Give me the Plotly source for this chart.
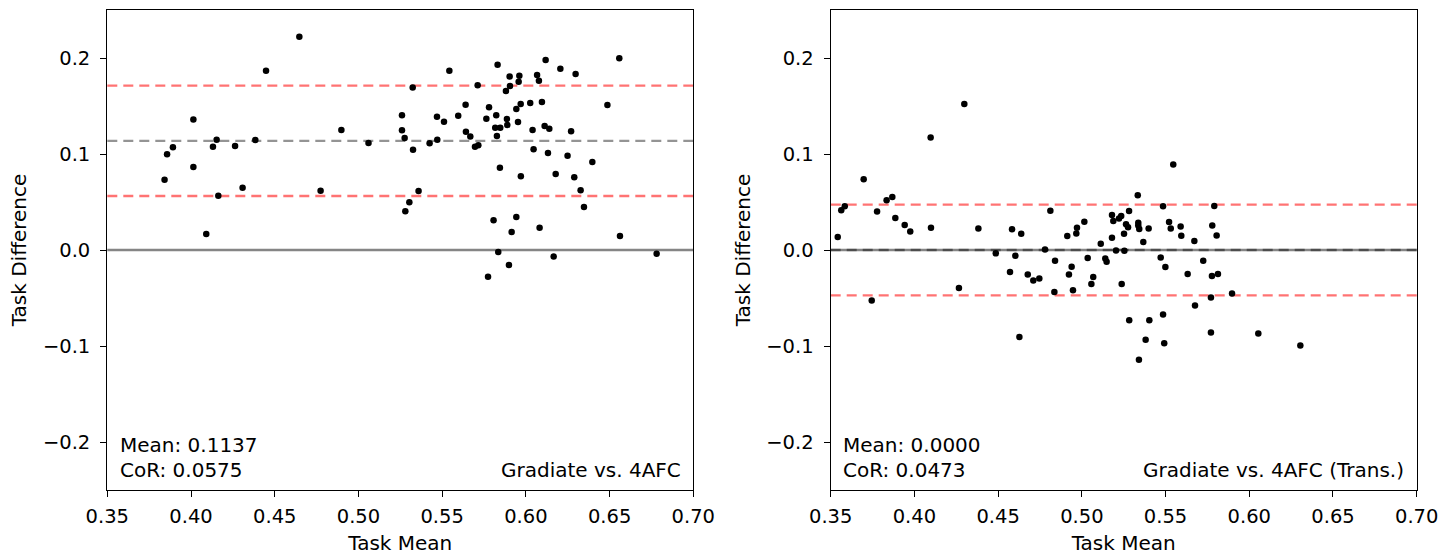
import plotly.graph_objects as go

# ---------------- data ----------------
left_mean_x = [0.3842, 0.3857, 0.3892, 0.4014, 0.4014, 0.4091, 0.4131, 0.4153, 0.4163, 0.4263,
               0.4308, 0.4384, 0.4448, 0.4647, 0.4774, 0.4898, 0.5060,
               0.5260, 0.5260, 0.5276, 0.5324, 0.5326, 0.5280, 0.5304, 0.5359, 0.5425, 0.5471,
               0.5469, 0.5511, 0.5543, 0.5596, 0.5640, 0.5642, 0.5668, 0.5696, 0.5716, 0.5712,
               0.5764, 0.5780, 0.5823, 0.5817, 0.5847, 0.5827, 0.5831, 0.5845, 0.5887, 0.5889,
               0.5881, 0.5905, 0.5903, 0.5957, 0.5961, 0.5943, 0.5969, 0.5953, 0.5970, 0.5807,
               0.5835, 0.5774, 0.5899, 0.5915, 0.5943, 0.6026, 0.6040, 0.6067, 0.6078, 0.6096,
               0.6046, 0.6118, 0.6112, 0.6140, 0.6132, 0.6082, 0.6166, 0.6178, 0.6206, 0.6249,
               0.6270, 0.6297, 0.6289, 0.6327, 0.6347, 0.6397, 0.6487, 0.6558, 0.6562, 0.6781]
left_diff_y = [0.0732, 0.0997, 0.1070, 0.1360, 0.0865, 0.0167, 0.1076, 0.1149, 0.0566, 0.1083,
               0.0649, 0.1146, 0.1868, 0.2222, 0.0618, 0.1250, 0.1115,
               0.1403, 0.1247, 0.1167, 0.1694, 0.1045, 0.0403, 0.0497, 0.0615, 0.1111, 0.1149,
               0.1389, 0.1337, 0.1868, 0.1399, 0.1514, 0.1233, 0.1181, 0.1076, 0.1090, 0.1715,
               0.1368, 0.1486, 0.1403, 0.1274, 0.1274, 0.1188, 0.1930, 0.0857, 0.1365, 0.1302,
               0.1656, 0.1708, 0.1806, 0.1753, 0.1816, 0.1469, 0.1521, 0.1333, 0.0767, 0.0309,
               -0.0021, -0.0278, -0.0156, 0.0188, 0.0344, 0.1531, 0.1250, 0.1823, 0.1764, 0.1542,
               0.1049, 0.1979, 0.1292, 0.1264, 0.1010, 0.0233, -0.0069, 0.0792, 0.1889, 0.0983,
               0.1236, 0.1833, 0.0757, 0.0622, 0.0448, 0.0917, 0.1510, 0.1997, 0.0146, -0.0038]

right_mean_x = [0.3542, 0.3563, 0.3584, 0.3697, 0.3745, 0.3777, 0.3834, 0.3868, 0.3886, 0.3942,
                0.3975, 0.4097, 0.4099, 0.4298, 0.4266, 0.4382, 0.4486, 0.4571, 0.4583, 0.4603,
                0.4627, 0.4638, 0.4677, 0.4710, 0.4746, 0.4780, 0.4812, 0.4836, 0.4840, 0.4913,
                0.4923, 0.4939, 0.4947, 0.4967, 0.4971, 0.5015, 0.5035, 0.5057, 0.5068, 0.5113,
                0.5140, 0.5148, 0.5180, 0.5180, 0.5188, 0.5204,
                0.5222, 0.5235, 0.5282, 0.5238, 0.5252, 0.5254, 0.5264, 0.5276, 0.5283, 0.5334,
                0.5337, 0.5337, 0.5343, 0.5367, 0.5399, 0.5341, 0.5381, 0.5403, 0.5471, 0.5485,
                0.5499, 0.5485, 0.5492, 0.5521, 0.5531, 0.5546, 0.5590, 0.5594, 0.5632, 0.5672,
                0.5676, 0.5725, 0.5771, 0.5771, 0.5777, 0.5791, 0.5779, 0.5805, 0.5813, 0.5897,
                0.6054, 0.6305]
right_diff_y = [0.0136, 0.0413, 0.0455, 0.0737, -0.0526, 0.0400, 0.0518, 0.0553, 0.0334, 0.0261,
                0.0194, 0.1172, 0.0233, 0.1520, -0.0397, 0.0225, -0.0035, -0.0230, 0.0215, -0.0060,
                -0.0905, 0.0170, -0.0255, -0.0317, -0.0296, 0.0006, 0.0410, -0.0438, -0.0112, 0.0146,
                -0.0255, -0.0174, -0.0418, 0.0173, 0.0233, 0.0295, -0.0084, -0.0355, -0.0282, 0.0066,
                -0.0088, -0.0122, 0.0128, 0.0365, 0.0303, -0.0004,
                0.0327, 0.0355, 0.0407, -0.0355, 0.0170, -0.0007, 0.0267, 0.0236, -0.0731, 0.0570,
                0.0285, 0.0254, 0.0219, 0.0084, 0.0225, -0.1142, -0.0936, -0.0731, -0.0077, 0.0455,
                -0.0177, -0.0672, -0.0971, 0.0292, 0.0225, 0.0890, 0.0246, 0.0149, -0.0251, 0.0094,
                -0.0578, -0.0112, -0.0495, -0.0860, -0.0271, 0.0459, 0.0254, 0.0152, -0.0251, -0.0453,
                -0.0871, -0.0996]

panel_stats = [
    {"mean": 0.1137, "cor": 0.0575, "label": "Gradiate vs. 4AFC"},
    {"mean": 0.0000, "cor": 0.0473, "label": "Gradiate vs. 4AFC (Trans.)"},
]
x_ticks = [0.35, 0.40, 0.45, 0.50, 0.55, 0.60, 0.65, 0.70]
y_ticks = [-0.2, -0.1, 0.0, 0.1, 0.2]

# ---------------- figure ----------------
FONT = "DejaVu Sans"
FS = 20
TFS = 19.5
fig = go.Figure()
fig.add_trace(go.Scatter(x=left_mean_x, y=left_diff_y, mode="markers",
                         marker=dict(color="black", size=6.5), xaxis="x", yaxis="y",
                         showlegend=False))
fig.add_trace(go.Scatter(x=right_mean_x, y=right_diff_y, mode="markers",
                         marker=dict(color="black", size=6.5), xaxis="x2", yaxis="y2",
                         showlegend=False))

W, H = 1454, 555
dom_left = [107.3 / W, 693.3 / W]
dom_right = [830.7 / W, 1416.7 / W]
dom_y = [1 - 490 / H, 1 - 10 / H]

ax_common = dict(showgrid=False, zeroline=False, showline=True, linecolor="black",
                 linewidth=1.3, mirror=True, ticks="outside", ticklen=6, tickwidth=1.3,
                 tickcolor="black", tickfont=dict(family=FONT, size=TFS, color="black"),
                 automargin=False)

fig.update_layout(
    width=W, height=H,
    margin=dict(l=0, r=0, t=0, b=0),
    paper_bgcolor="white", plot_bgcolor="white",
    font=dict(family=FONT, size=FS, color="black"),
    xaxis=dict(domain=dom_left, range=[0.35, 0.70], tickvals=x_ticks, tickformat=".2f",
               anchor="y", ticklabelstandoff=2,
               title=dict(text="Task Mean", standoff=10, font=dict(size=FS)), **ax_common),
    yaxis=dict(domain=dom_y, range=[-0.25, 0.25], tickvals=y_ticks, tickformat=".1f",
               anchor="x", ticklabelstandoff=6,
               title=dict(text="Task Difference", standoff=10, font=dict(size=FS)), **ax_common),
    xaxis2=dict(domain=dom_right, range=[0.35, 0.70], tickvals=x_ticks, tickformat=".2f",
                anchor="y2", ticklabelstandoff=2,
                title=dict(text="Task Mean", standoff=10, font=dict(size=FS)), **ax_common),
    yaxis2=dict(domain=dom_y, range=[-0.25, 0.25], tickvals=y_ticks, tickformat=".1f",
                anchor="x2", ticklabelstandoff=6,
                title=dict(text="Task Difference", standoff=10, font=dict(size=FS)), **ax_common),
)

for i, st in enumerate(panel_stats):
    xr = "x" if i == 0 else "x2"
    yr = "y" if i == 0 else "y2"
    def hline(yv, color, dash, width):
        fig.add_shape(type="line", xref=xr + " domain", yref=yr, x0=0, x1=1, y0=yv, y1=yv,
                      line=dict(color=color, dash=dash, width=width), layer="below")
    hline(0.0, "#858585", "solid", 2.6)
    hline(st["mean"], "rgba(0,0,0,0.42)", "10px,6px", 2.4)
    hline(st["mean"] + st["cor"], "rgba(255,0,0,0.55)", "10px,6px", 2.4)
    hline(st["mean"] - st["cor"], "rgba(255,0,0,0.55)", "10px,6px", 2.4)

    fig.add_annotation(xref=xr + " domain", yref=yr + " domain", x=0.018, y=(490 - 445) / 480,
                       text=f"Mean: {st['mean']:.4f}", showarrow=False, xanchor="left",
                       yanchor="middle", font=dict(family=FONT, size=FS))
    fig.add_annotation(xref=xr + " domain", yref=yr + " domain", x=0.018, y=(490 - 470) / 480,
                       text=f"CoR: {st['cor']:.4f}", showarrow=False, xanchor="left",
                       yanchor="middle", font=dict(family=FONT, size=FS))
    fig.add_annotation(xref=xr + " domain", yref=yr + " domain", x=0.982, y=(490 - 470) / 480,
                       text=st["label"], showarrow=False, xanchor="right",
                       yanchor="middle", font=dict(family=FONT, size=FS))

fig.write_html("out.html")
